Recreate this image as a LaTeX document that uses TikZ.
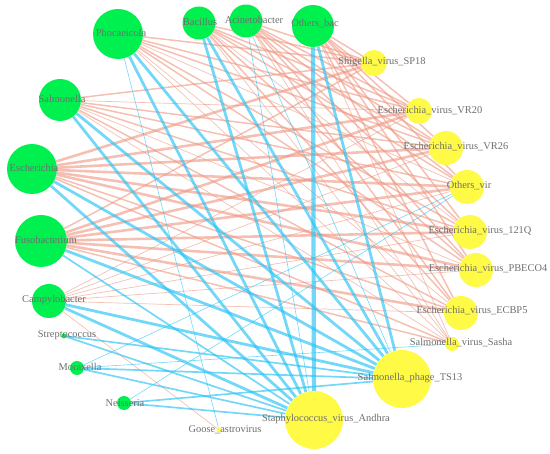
\documentclass[tikz,border=0pt]{standalone}
\usepackage{fontspec}
\setmainfont{Liberation Serif}
\usetikzlibrary{backgrounds}

\definecolor{bacgreen}{RGB}{0,240,80}
\definecolor{viryellow}{RGB}{255,250,70}
\definecolor{posred}{RGB}{238,150,128}
\definecolor{negblue}{RGB}{40,195,245}
\definecolor{labgray}{RGB}{110,110,110}

\begin{document}
\begin{tikzpicture}[x=1pt, y=-1pt,
  bac/.style={circle, fill=bacgreen, inner sep=0pt},
  vir/.style={circle, fill=viryellow, inner sep=0pt},
  lab/.style={text=labgray, font=\fontsize{10.4}{12}\selectfont, inner sep=0pt},
  p1/.style={draw=posred, draw opacity=0.6, line width=0.7pt},
  p2/.style={draw=posred, draw opacity=0.6, line width=1.5pt},
  p3/.style={draw=posred, draw opacity=0.6, line width=2.6pt},
  n1/.style={draw=negblue, draw opacity=0.65, line width=0.6pt},
  n2/.style={draw=negblue, draw opacity=0.65, line width=1.7pt},
  n3/.style={draw=negblue, draw opacity=0.65, line width=2.8pt},
  n4/.style={draw=negblue, draw opacity=0.65, line width=4.2pt}]
  \useasboundingbox (0,0) rectangle (550,454);

  % bacteria
  \node[bac, minimum size=50pt] (Pho) at (118,34) {};
  \node[bac, minimum size=33pt] (Bacil) at (199,23) {};
  \node[bac, minimum size=33pt] (Acin) at (246,21) {};
  \node[bac, minimum size=42pt] (Obac) at (313,26) {};
  \node[bac, minimum size=42pt] (Salm) at (60,100) {};
  \node[bac, minimum size=50pt] (Esch) at (32,169) {};
  \node[bac, minimum size=52pt] (Fuso) at (41,241) {};
  \node[bac, minimum size=34pt] (Camp) at (49,301) {};
  \node[bac, minimum size=5pt] (Strep) at (64,336) {};
  \node[bac, minimum size=14pt] (Mora) at (77,368) {};
  \node[bac, minimum size=14pt] (Neis) at (124,403) {};

  % viruses
  \node[vir, minimum size=26pt] (SP18) at (374,63) {};
  \node[vir, minimum size=26pt] (VR20) at (419,111) {};
  \node[vir, minimum size=34pt] (VR26) at (446,148) {};
  \node[vir, minimum size=34pt] (Ovir) at (467,187) {};
  \node[vir, minimum size=34pt] (V121Q) at (470,232) {};
  \node[vir, minimum size=34pt] (PBECO4) at (476,270) {};
  \node[vir, minimum size=34pt] (ECBP5) at (461,313) {};
  \node[vir, minimum size=14pt] (Sasha) at (452,344) {};
  \node[vir, minimum size=58pt] (TS13) at (402,379) {};
  \node[vir, minimum size=58pt] (Andhra) at (314,420) {};
  \node[vir, minimum size=5pt] (Goose) at (219,430) {};

  \begin{pgfonlayer}{background}
  % positive links
  \path (Pho) edge[p2] (SP18) edge[p2] (VR20) edge[p2] (VR26) edge[p1] (Ovir)
              edge[p2] (V121Q) edge[p2] (PBECO4) edge[p1] (ECBP5) edge[p1] (Sasha);
  \path (Bacil) edge[p2] (SP18) edge[p2] (VR20) edge[p2] (VR26) edge[p2] (Ovir)
                edge[p1] (V121Q) edge[p2] (PBECO4) edge[p2] (ECBP5) edge[p1] (Sasha);
  \path (Acin) edge[p2] (SP18) edge[p2] (VR20) edge[p2] (VR26) edge[p2] (Ovir)
               edge[p2] (V121Q) edge[p2] (PBECO4) edge[p2] (ECBP5) edge[p1] (Sasha);
  \path (Obac) edge[p2] (SP18) edge[p2] (VR20) edge[p2] (VR26) edge[p2] (Ovir)
               edge[p2] (V121Q) edge[p2] (PBECO4) edge[p2] (ECBP5) edge[p1] (Sasha);
  \path (Salm) edge[p2] (SP18) edge[p1] (VR20) edge[p2] (VR26) edge[p2] (Ovir)
               edge[p2] (V121Q) edge[p1] (PBECO4) edge[p2] (ECBP5) edge[p1] (Sasha);
  \path (Esch) edge[p3] (SP18) edge[p3] (VR20) edge[p3] (VR26) edge[p3] (Ovir)
               edge[p3] (V121Q) edge[p3] (PBECO4) edge[p2] (ECBP5) edge[p2] (Sasha);
  \path (Fuso) edge[p2] (SP18) edge[p3] (VR20) edge[p3] (VR26) edge[p3] (Ovir)
               edge[p3] (V121Q) edge[p3] (PBECO4) edge[p3] (ECBP5) edge[p2] (Sasha);
  \path (Camp) edge[p1] (VR20) edge[p1] (VR26) edge[p1] (Ovir) edge[p1] (V121Q)
               edge[p1] (PBECO4) edge[p1] (ECBP5) edge[p1] (Goose);
  % negative links
  \path (Pho) edge[n3] (Andhra) edge[n3] (TS13) edge[n1] (Goose);
  \path (Bacil) edge[n3] (Andhra) edge[n3] (TS13);
  \path (Acin) edge[n1] (Andhra) edge[n1] (TS13);
  \path (Obac) edge[n4] (Andhra) edge[n3] (TS13);
  \path (Salm) edge[n3] (Andhra) edge[n3] (TS13);
  \path (Esch) edge[n3] (Andhra) edge[n3] (TS13);
  \path (Fuso) edge[n2] (Andhra) edge[n3] (TS13);
  \path (Camp) edge[n3] (Andhra) edge[n3] (TS13);
  \path (Strep) edge[n2] (Andhra) edge[n2] (TS13);
  \path (Mora) edge[n2] (Andhra) edge[n2] (TS13) edge[n1] (Ovir) edge[n1] (Sasha);
  \path (Neis) edge[n2] (Andhra) edge[n2] (TS13) edge[n1] (Ovir);
  \end{pgfonlayer}

  % labels
  \node[lab] (Pho-l) at (121,33) {Phocaeicola};
  \node[lab] (Bacil-l) at (200,22) {Bacillus};
  \node[lab] (Acin-l) at (254,20) {Acinetobacter};
  \node[lab] (Obac-l) at (315,24) {Others\_bac};
  \node[lab] (Salm-l) at (62,99) {Salmonella};
  \node[lab] (Esch-l) at (34,168) {Escherichia};
  \node[lab] (Fuso-l) at (46,240) {Fusobacterium};
  \node[lab] (Camp-l) at (54,300) {Campylobacter};
  \node[lab] (Strep-l) at (67,335) {Streptococcus};
  \node[lab] (Mora-l) at (80,367) {Moraxella};
  \node[lab] (Neis-l) at (125,403) {Neisseria};
  \node[lab] (Goose-l) at (225,430) {Goose\_astrovirus};
  \node[lab] (Andhra-l) at (326,419) {Staphylococcus\_virus\_Andhra};
  \node[lab] (TS13-l) at (410,378) {Salmonella\_phage\_TS13};
  \node[lab] (Sasha-l) at (461,343) {Salmonella\_virus\_Sasha};
  \node[lab] (ECBP5-l) at (472,311) {Escherichia\_virus\_ECBP5};
  \node[lab] (PBECO4-l) at (488,269) {Escherichia\_virus\_PBECO4};
  \node[lab] (V121Q-l) at (480,231) {Escherichia\_virus\_121Q};
  \node[lab] (Ovir-l) at (469,186) {Others\_vir};
  \node[lab] (VR26-l) at (456,147) {Escherichia\_virus\_VR26};
  \node[lab] (VR20-l) at (430,111) {Escherichia\_virus\_VR20};
  \node[lab] (SP18-l) at (382,62) {Shigella\_virus\_SP18};
\end{tikzpicture}
\end{document}
